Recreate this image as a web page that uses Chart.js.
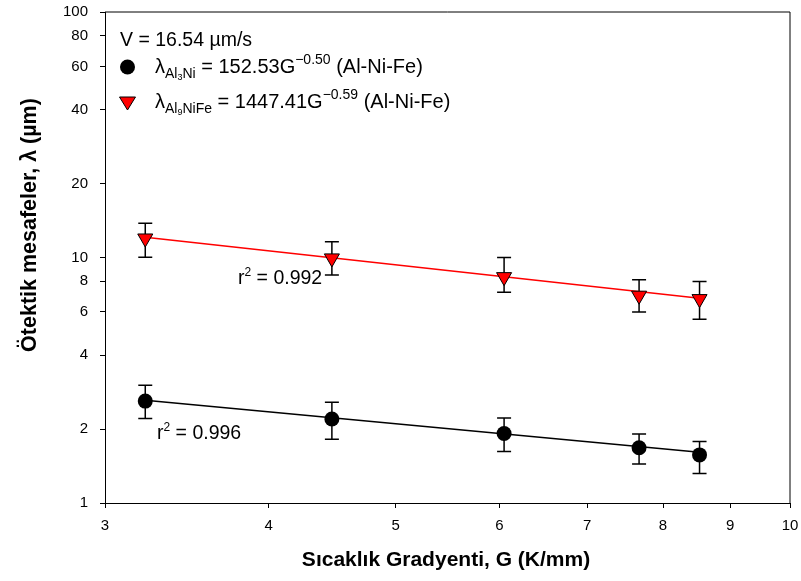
<!DOCTYPE html>
<html>
<head>
<meta charset="utf-8">
<script src="https://cdn.jsdelivr.net/npm/chart.js@4.4.0/dist/chart.umd.min.js"></script>
<style>
html,body{margin:0;padding:0;background:#fff;}
canvas{display:block;}
</style>
</head>
<body>
<canvas id="c" width="801" height="581"></canvas>
<script>
// ---- data ----
const G = [3.22, 4.47, 6.05, 7.67, 8.53];            // K/mm
const blackVals = [2.60, 2.20, 1.92, 1.68, 1.57];     // Al3Ni spacing (µm)
const blackHi   = [3.02, 2.57, 2.22, 1.91, 1.78];
const blackLo   = [2.21, 1.82, 1.62, 1.44, 1.32];
const redVals   = [11.97, 9.93, 8.33, 7.00, 6.78];    // Al9NiFe spacing (µm)
const redHi     = [13.78, 11.60, 9.99, 8.12, 7.99];
const redLo     = [10.02, 8.49, 7.22, 6.00, 5.60];
const fitG      = [3.22, 8.53];
const blackFit  = [2.62, 1.61];
const redFit    = [12.1, 6.82];
const xTicks = [3, 4, 5, 6, 7, 8, 9, 10];
const yTicks = [1, 2, 4, 6, 8, 10, 20, 40, 60, 80, 100];

const FONT = '"Liberation Sans", Arial, sans-serif';

const errorBars = {
  id: 'errorBars',
  beforeDatasetsDraw(chart) {
    const {ctx, scales: {x, y}} = chart;
    ctx.save();
    ctx.strokeStyle = '#000';
    ctx.lineWidth = 1.5;
    [[blackHi, blackLo], [redHi, redLo]].forEach(([hi, lo]) => {
      G.forEach((g, i) => {
        const px = x.getPixelForValue(g);
        const t = y.getPixelForValue(hi[i]);
        const b = y.getPixelForValue(lo[i]);
        ctx.beginPath();
        ctx.moveTo(px, t); ctx.lineTo(px, b);
        ctx.moveTo(px - 7, t); ctx.lineTo(px + 7, t);
        ctx.moveTo(px - 7, b); ctx.lineTo(px + 7, b);
        ctx.stroke();
      });
    });
    ctx.restore();
  }
};

const frame = {
  id: 'frame',
  afterDraw(chart) {
    const {ctx, chartArea: a} = chart;
    ctx.save();
    ctx.strokeStyle = '#000';
    ctx.lineWidth = 1;
    ctx.beginPath();
    ctx.moveTo(a.left, a.top); ctx.lineTo(a.right, a.top); ctx.lineTo(a.right, a.bottom);
    ctx.stroke();
    ctx.restore();
  }
};

function textRuns(ctx, x, y, parts) {
  parts.forEach(p => {
    ctx.font = (p.bold ? 'bold ' : '') + p.size + 'px ' + FONT;
    ctx.fillText(p.t, x, y + (p.dy || 0));
    x += ctx.measureText(p.t).width;
  });
  return x;
}

const annotations = {
  id: 'annotations',
  afterDraw(chart) {
    const ctx = chart.ctx;
    ctx.save();
    ctx.fillStyle = '#000';
    ctx.textBaseline = 'alphabetic';
    ctx.textAlign = 'left';
    // legend block
    textRuns(ctx, 120, 46, [{t: 'V = 16.54 µm/s', size: 19.5}]);
    // circle marker
    ctx.beginPath(); ctx.arc(127.5, 67, 7.5, 0, Math.PI * 2); ctx.fill();
    textRuns(ctx, 155, 73, [
      {t: 'λ', size: 20},
      {t: 'Al', size: 14, dy: 5},
      {t: '3', size: 9, dy: 7},
      {t: 'Ni', size: 14, dy: 5},
      {t: ' = 152.53G', size: 20},
      {t: '−0.50', size: 14, dy: -9},
      {t: ' (Al-Ni-Fe)', size: 20}
    ]);
    // triangle marker
    ctx.beginPath();
    ctx.moveTo(119.5, 97); ctx.lineTo(135.5, 97); ctx.lineTo(127.5, 110); ctx.closePath();
    ctx.fillStyle = '#ff0000'; ctx.fill();
    ctx.strokeStyle = '#000'; ctx.lineWidth = 1; ctx.stroke();
    ctx.fillStyle = '#000';
    textRuns(ctx, 155, 108, [
      {t: 'λ', size: 20},
      {t: 'Al', size: 14, dy: 5},
      {t: '9', size: 9, dy: 7},
      {t: 'NiFe', size: 14, dy: 5},
      {t: ' = 1447.41G', size: 20},
      {t: '−0.59', size: 14, dy: -9},
      {t: ' (Al-Ni-Fe)', size: 20}
    ]);
    // r² labels
    textRuns(ctx, 238, 284, [{t: 'r', size: 19.5}, {t: '2', size: 12, dy: -8}, {t: ' = 0.992', size: 19.5}]);
    textRuns(ctx, 157, 439, [{t: 'r', size: 19.5}, {t: '2', size: 12, dy: -8}, {t: ' = 0.996', size: 19.5}]);
    // axis titles
    ctx.font = 'bold 21px ' + FONT;
    ctx.textAlign = 'center';
    ctx.fillText('Sıcaklık Gradyenti, G (K/mm)', 446, 566);
    ctx.translate(36, 225);
    ctx.rotate(-Math.PI / 2);
    ctx.font = 'bold 21.5px ' + FONT;
    ctx.fillText('Ötektik mesafeler, λ (µm)', 0, 0);
    ctx.restore();
  }
};

new Chart(document.getElementById('c'), {
  type: 'scatter',
  data: {
    datasets: [
      {
        label: 'Al3Ni',
        data: G.map((g, i) => ({x: g, y: blackVals[i]})),
        pointStyle: 'circle', pointRadius: 7.5, pointHoverRadius: 7.5,
        backgroundColor: '#000', borderColor: '#000', borderWidth: 0,
        order: 0
      },
      {
        label: 'Al9NiFe',
        data: G.map((g, i) => ({x: g, y: redVals[i]})),
        pointStyle: 'triangle', rotation: 180, pointRadius: 8.7, pointHoverRadius: 8.7,
        backgroundColor: '#ff0000', borderColor: '#000', borderWidth: 1,
        order: 0
      },
      {
        label: 'fit black', type: 'line',
        data: fitG.map((g, i) => ({x: g, y: blackFit[i]})),
        borderColor: '#000', borderWidth: 1.5, pointRadius: 0, fill: false,
        order: 1
      },
      {
        label: 'fit red', type: 'line',
        data: fitG.map((g, i) => ({x: g, y: redFit[i]})),
        borderColor: '#ff0000', borderWidth: 1.5, pointRadius: 0, fill: false,
        order: 1
      }
    ]
  },
  options: {
    responsive: false,
    devicePixelRatio: 1,
    animation: false,
    layout: {padding: {top: 12, right: 11, bottom: 0, left: 0}},
    plugins: {legend: {display: false}, tooltip: {enabled: false}},
    scales: {
      x: {
        type: 'logarithmic', min: 3, max: 10,
        afterBuildTicks(s) { s.ticks = xTicks.map(v => ({value: v})); },
        afterFit(s) { s.height = 78; s.paddingLeft = 0; s.paddingRight = 0; },
        ticks: {callback: v => String(v), color: '#000', font: {family: FONT, size: 15}, padding: 9, maxRotation: 0, autoSkip: false},
        grid: {drawOnChartArea: false, drawTicks: true, tickLength: 5, color: '#000', lineWidth: 1},
        border: {display: true, color: '#000', width: 1}
      },
      y: {
        type: 'logarithmic', min: 1, max: 100,
        afterBuildTicks(s) { s.ticks = yTicks.map(v => ({value: v})); },
        afterFit(s) { s.width = 105; s.paddingTop = 0; s.paddingBottom = 0; },
        ticks: {callback: v => String(v), color: '#000', font: {family: FONT, size: 15}, padding: 12, autoSkip: false},
        grid: {drawOnChartArea: false, drawTicks: true, tickLength: 5, color: '#000', lineWidth: 1},
        border: {display: true, color: '#000', width: 1}
      }
    }
  },
  plugins: [errorBars, frame, annotations]
});
</script>
</body>
</html>
